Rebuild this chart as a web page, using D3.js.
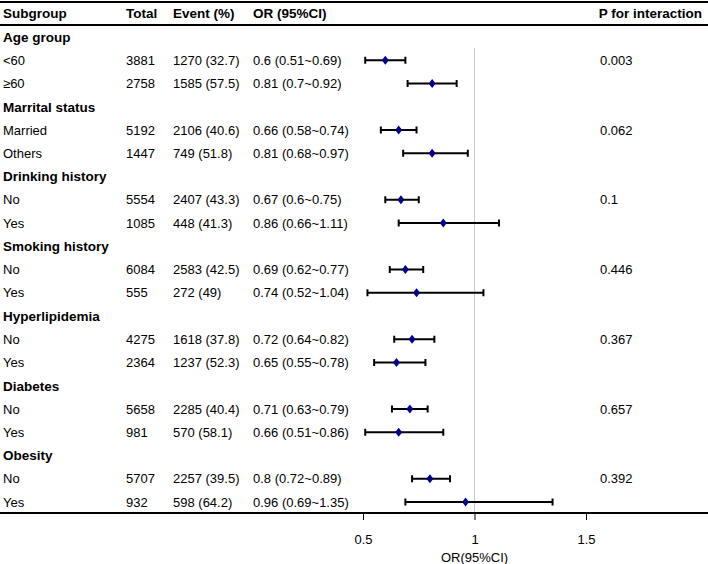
<!DOCTYPE html>
<html>
<head>
<meta charset="utf-8">
<title>Subgroup forest plot</title>
<script src="https://cdn.jsdelivr.net/npm/d3@7"></script>
<style>
  body { margin: 0; background: #fff; }
  svg text { font-family: "Liberation Sans", Arial, sans-serif; fill: #000; }
</style>
</head>
<body>
<script>
// table data
const groups = ["Age group", "Marrital status", "Drinking history", "Smoking history",
                "Hyperlipidemia", "Diabetes", "Obesity"];
const levels = [["<60", "≥60"], ["Married", "Others"], ["No", "Yes"], ["No", "Yes"],
                ["No", "Yes"], ["No", "Yes"], ["No", "Yes"]];
const totals = [[3881, 2758], [5192, 1447], [5554, 1085], [6084, 555],
                [4275, 2364], [5658, 981], [5707, 932]];
const events = [["1270 (32.7)", "1585 (57.5)"], ["2106 (40.6)", "749 (51.8)"],
                ["2407 (43.3)", "448 (41.3)"], ["2583 (42.5)", "272 (49)"],
                ["1618 (37.8)", "1237 (52.3)"], ["2285 (40.4)", "570 (58.1)"],
                ["2257 (39.5)", "598 (64.2)"]];
const or  = [[0.6, 0.81], [0.66, 0.81], [0.67, 0.86], [0.69, 0.74], [0.72, 0.65], [0.71, 0.66], [0.8, 0.96]];
const lo  = [[0.51, 0.7], [0.58, 0.68], [0.6, 0.66], [0.62, 0.52], [0.64, 0.55], [0.63, 0.51], [0.72, 0.69]];
const hi  = [[0.69, 0.92], [0.74, 0.97], [0.75, 1.11], [0.77, 1.04], [0.82, 0.78], [0.79, 0.86], [0.89, 1.35]];
const pInter = ["0.003", "0.062", "0.1", "0.446", "0.367", "0.657", "0.392"];
const ticks = [0.5, 1, 1.5];

const width = 708, height = 564;
const svg = d3.select("body").append("svg")
    .attr("width", width).attr("height", height);

// flatten into rows
let rows = [];
groups.forEach(function(g, i){
    rows.push({type: "group", label: g});
    levels[i].forEach(function(l, j){
        rows.push({type: "item", label: l, total: totals[i][j], event: events[i][j],
                   or: or[i][j], lo: lo[i][j], hi: hi[i][j],
                   p: j === 0 ? pInter[i] : ""});
    });
});

let y = d3.scalePoint()
    .domain(d3.range(rows.length))
    .range([37, 502]);

let x = d3.scaleLinear()
    .domain([0.5, 1.5])
    .range([363, 586]);

const col = {sub: 3, total: 126, event: 173, or: 253, p: 600};
const fs = 13;

// header
svg.append("line").attr("x1", 0).attr("x2", width).attr("y1", 2).attr("y2", 2)
    .attr("stroke", "#000").attr("stroke-width", 2);
svg.append("line").attr("x1", 0).attr("x2", width).attr("y1", 25).attr("y2", 25)
    .attr("stroke", "#000").attr("stroke-width", 2);

let header = [["Subgroup", col.sub], ["Total", col.total], ["Event (%)", col.event], ["OR (95%CI)", col.or]];
header.forEach(function(h){
    svg.append("text").attr("x", h[1]).attr("y", 18)
        .attr("font-size", 13.5).attr("font-weight", "bold").text(h[0]);
});
svg.append("text").attr("x", 702).attr("y", 18).attr("text-anchor", "end")
    .attr("font-size", 13.5).attr("font-weight", "bold").text("P for interaction");

// reference line
svg.append("line").attr("x1", x(1)).attr("x2", x(1)).attr("y1", 48).attr("y2", 513)
    .attr("stroke", "#c8c8c8").attr("stroke-width", 1);

// table text
let g = svg.selectAll("g.row").data(rows).enter().append("g")
    .attr("class", "row")
    .attr("transform", function(d, i){ return "translate(0," + y(i) + ")"; });

g.append("text").attr("x", col.sub).attr("dy", "0.36em")
    .attr("font-size", function(d){ return d.type === "group" ? 13.5 : fs; })
    .attr("font-weight", function(d){ return d.type === "group" ? "bold" : "normal"; })
    .text(function(d){ return d.label; });

let items = g.filter(function(d){ return d.type === "item"; });
items.append("text").attr("x", col.total).attr("dy", "0.36em").attr("font-size", fs)
    .text(function(d){ return d.total; });
items.append("text").attr("x", col.event).attr("dy", "0.36em").attr("font-size", fs)
    .text(function(d){ return d.event; });
items.append("text").attr("x", col.or).attr("dy", "0.36em").attr("font-size", fs)
    .text(function(d){ return d.or + " (" + d.lo + "~" + d.hi + ")"; });
items.append("text").attr("x", col.p).attr("dy", "0.36em").attr("font-size", fs)
    .text(function(d){ return d.p; });

// error bars
items.append("line")
    .attr("x1", function(d){ return x(d.lo); })
    .attr("x2", function(d){ return x(d.hi); })
    .attr("stroke", "#000").attr("stroke-width", 2);
items.append("line")
    .attr("x1", function(d){ return x(d.lo); }).attr("x2", function(d){ return x(d.lo); })
    .attr("y1", -3.5).attr("y2", 3.5)
    .attr("stroke", "#000").attr("stroke-width", 2);
items.append("line")
    .attr("x1", function(d){ return x(d.hi); }).attr("x2", function(d){ return x(d.hi); })
    .attr("y1", -3.5).attr("y2", 3.5)
    .attr("stroke", "#000").attr("stroke-width", 2);
items.append("path")
    .attr("d", "M0,-4.5L3.5,0L0,4.5L-3.5,0Z")
    .attr("transform", function(d){ return "translate(" + x(d.or) + ",0)"; })
    .attr("fill", "#00008B");

// bottom axis
svg.append("line").attr("x1", 0).attr("x2", width).attr("y1", 513).attr("y2", 513)
    .attr("stroke", "#000").attr("stroke-width", 2);
let axis = d3.axisBottom(x).tickValues(ticks).tickSize(7).tickSizeOuter(0)
    .tickFormat(d3.format(""));
let ax = svg.append("g").attr("transform", "translate(0,513)").call(axis);
ax.select(".domain").remove();
ax.selectAll(".tick line").attr("stroke", "#000");
ax.selectAll(".tick text").attr("font-size", fs)
    .attr("font-family", "Liberation Sans, Arial, sans-serif").attr("dy", "1.65em");

svg.append("text").attr("x", x(1)).attr("y", 562).attr("text-anchor", "middle")
    .attr("font-size", fs).text("OR(95%CI)");
</script>
</body>
</html>
